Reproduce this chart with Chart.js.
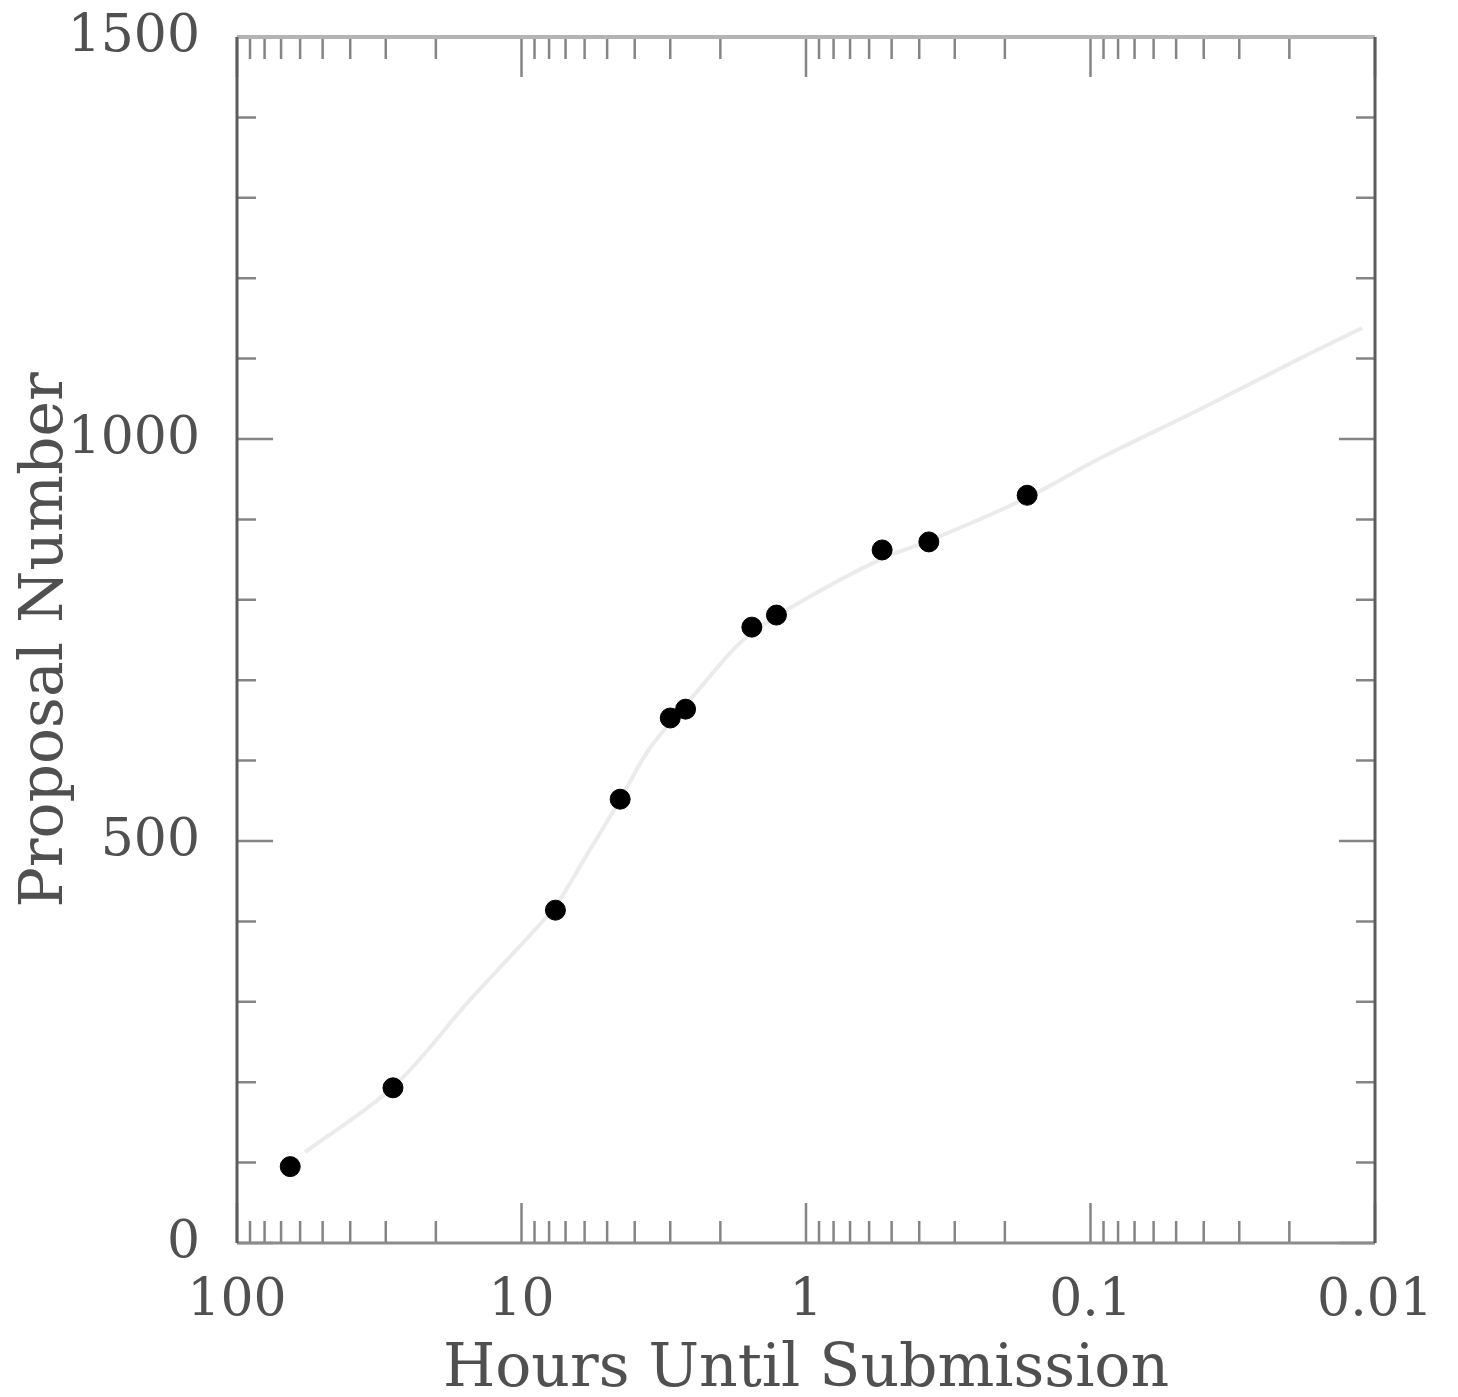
<!DOCTYPE html>
<html>
<head>
<meta charset="utf-8">
<script src="https://cdn.jsdelivr.net/npm/chart.js@4.4.1/dist/chart.umd.min.js"></script>
<style>
html, body { margin: 0; padding: 0; background: #fff; }
#wrap { width: 1458px; height: 1397px; position: relative; }
</style>
</head>
<body>
<div id="wrap"><canvas id="proposalChart"></canvas></div>
<script>
// --- Data ---
const hoursUntil = [65, 28.3, 7.6, 4.5, 3.0, 2.65, 1.55, 1.27, 0.54, 0.37, 0.167];
const proposalNumber = [95, 193, 414, 552, 653, 664, 766, 781, 862, 872, 930];

// faint trend curve behind the points
const curveHours = [57.7, 28.3, 15.2, 9.34, 7.56, 5.98, 4.51, 3.53, 2.36, 1.64, 1.05, 0.549, 0.366, 0.167, 0.0926, 0.0412, 0.0184, 0.0111];
const curveNumber = [113, 194, 302, 383, 420, 479, 551, 616, 690, 752, 797, 850, 874, 927, 976, 1037, 1100, 1138];

const xTickValues = [100, 10, 1, 0.1, 0.01];
const xTickLabels = ['100', '10', '1', '0.1', '0.01'];
const yTickValues = [0, 500, 1000, 1500];
const yTickLabels = ['0', '500', '1000', '1500'];

const FONT = 'DejaVu Serif';
const TEXT = '#505050';

// --- inward ticks on all four sides + frame ---
const frameTicks = {
    id: 'frameTicks',
    afterDatasetsDraw(chart) {
        const { ctx, chartArea: a, scales: { x, y } } = chart;
        ctx.save();
        ctx.strokeStyle = '#858585';
        ctx.lineWidth = 2.5;

        const xTick = (v, len) => {
            const px = x.getPixelForValue(v);
            ctx.beginPath();
            ctx.moveTo(px, a.bottom); ctx.lineTo(px, a.bottom - len);
            ctx.moveTo(px, a.top); ctx.lineTo(px, a.top + len);
            ctx.stroke();
        };
        const yTick = (v, len) => {
            const py = y.getPixelForValue(v);
            ctx.beginPath();
            ctx.moveTo(a.left, py); ctx.lineTo(a.left + len, py);
            ctx.moveTo(a.right, py); ctx.lineTo(a.right - len, py);
            ctx.stroke();
        };

        xTickValues.forEach(v => xTick(v, 40));
        [0.01, 0.1, 1, 10].forEach(d => {
            for (let k = 2; k <= 9; k++) xTick(d * k, 22);
        });
        yTickValues.forEach(v => yTick(v, 36));
        for (let v = 100; v < 1500; v += 100) {
            if (v % 500 !== 0) yTick(v, 19);
        }

        // frame
        const side = (x1, y1, x2, y2, col, w) => {
            ctx.strokeStyle = col; ctx.lineWidth = w;
            ctx.beginPath(); ctx.moveTo(x1, y1); ctx.lineTo(x2, y2); ctx.stroke();
        };
        side(a.left, a.top, a.right, a.top, '#b4b4b4', 4);
        side(a.left, a.bottom, a.right, a.bottom, '#8c8c8c', 3);
        side(a.left, a.top, a.left, a.bottom, '#5c5c5c', 3);
        side(a.right, a.top, a.right, a.bottom, '#5c5c5c', 3);
        ctx.restore();
    }
};

// keep the plot box where the figure has it
const noEdgePadding = s => {
    s.paddingTop = 0; s.paddingBottom = 0;
    s.paddingLeft = 0; s.paddingRight = 0;
};

const ctx = document.getElementById('proposalChart').getContext('2d');
new Chart(ctx, {
    type: 'scatter',
    data: {
        datasets: [{
            label: 'Proposals',
            data: hoursUntil.map((h, i) => ({ x: h, y: proposalNumber[i] })),
            backgroundColor: '#000',
            borderColor: '#000',
            pointRadius: 10,
            order: 0
        }, {
            type: 'line',
            label: 'Trend',
            data: curveHours.map((h, i) => ({ x: h, y: curveNumber[i] })),
            borderColor: '#ebebeb',
            borderWidth: 4,
            pointRadius: 0,
            tension: 0.35,
            fill: false,
            order: 1
        }]
    },
    options: {
        responsive: true,
        maintainAspectRatio: false,
        animation: false,
        layout: { padding: { left: 0, right: 83, top: 37, bottom: 0 } },
        plugins: {
            legend: { display: false },
            tooltip: { enabled: false }
        },
        scales: {
            x: {
                type: 'logarithmic',
                reverse: true,
                min: 0.01,
                max: 100,
                grid: { display: false, drawTicks: false },
                border: { display: false },
                afterBuildTicks: s => { s.ticks = xTickValues.map(v => ({ value: v })); },
                afterFit: s => { s.height = 154; noEdgePadding(s); },
                ticks: {
                    color: TEXT,
                    padding: 27,
                    maxRotation: 0,
                    autoSkip: false,
                    font: { family: FONT, size: 52 },
                    callback: (v, i) => xTickLabels[i]
                },
                title: {
                    display: true,
                    text: 'Hours Until Submission',
                    color: TEXT,
                    padding: { top: 0, bottom: -3 },
                    font: { family: FONT, size: 60, lineHeight: 1.0 }
                }
            },
            y: {
                min: 0,
                max: 1500,
                grid: { display: false, drawTicks: false },
                border: { display: false },
                afterBuildTicks: s => { s.ticks = yTickValues.map(v => ({ value: v })); },
                afterFit: s => { s.width = 237; noEdgePadding(s); },
                ticks: {
                    color: TEXT,
                    padding: 37,
                    autoSkip: false,
                    font: { family: FONT, size: 52 },
                    callback: (v, i) => yTickLabels[i]
                },
                title: {
                    display: true,
                    text: 'Proposal Number',
                    color: TEXT,
                    padding: { top: 16, bottom: 0 },
                    font: { family: FONT, size: 60, lineHeight: 1.0 }
                }
            }
        }
    },
    plugins: [frameTicks]
});
</script>
</body>
</html>
